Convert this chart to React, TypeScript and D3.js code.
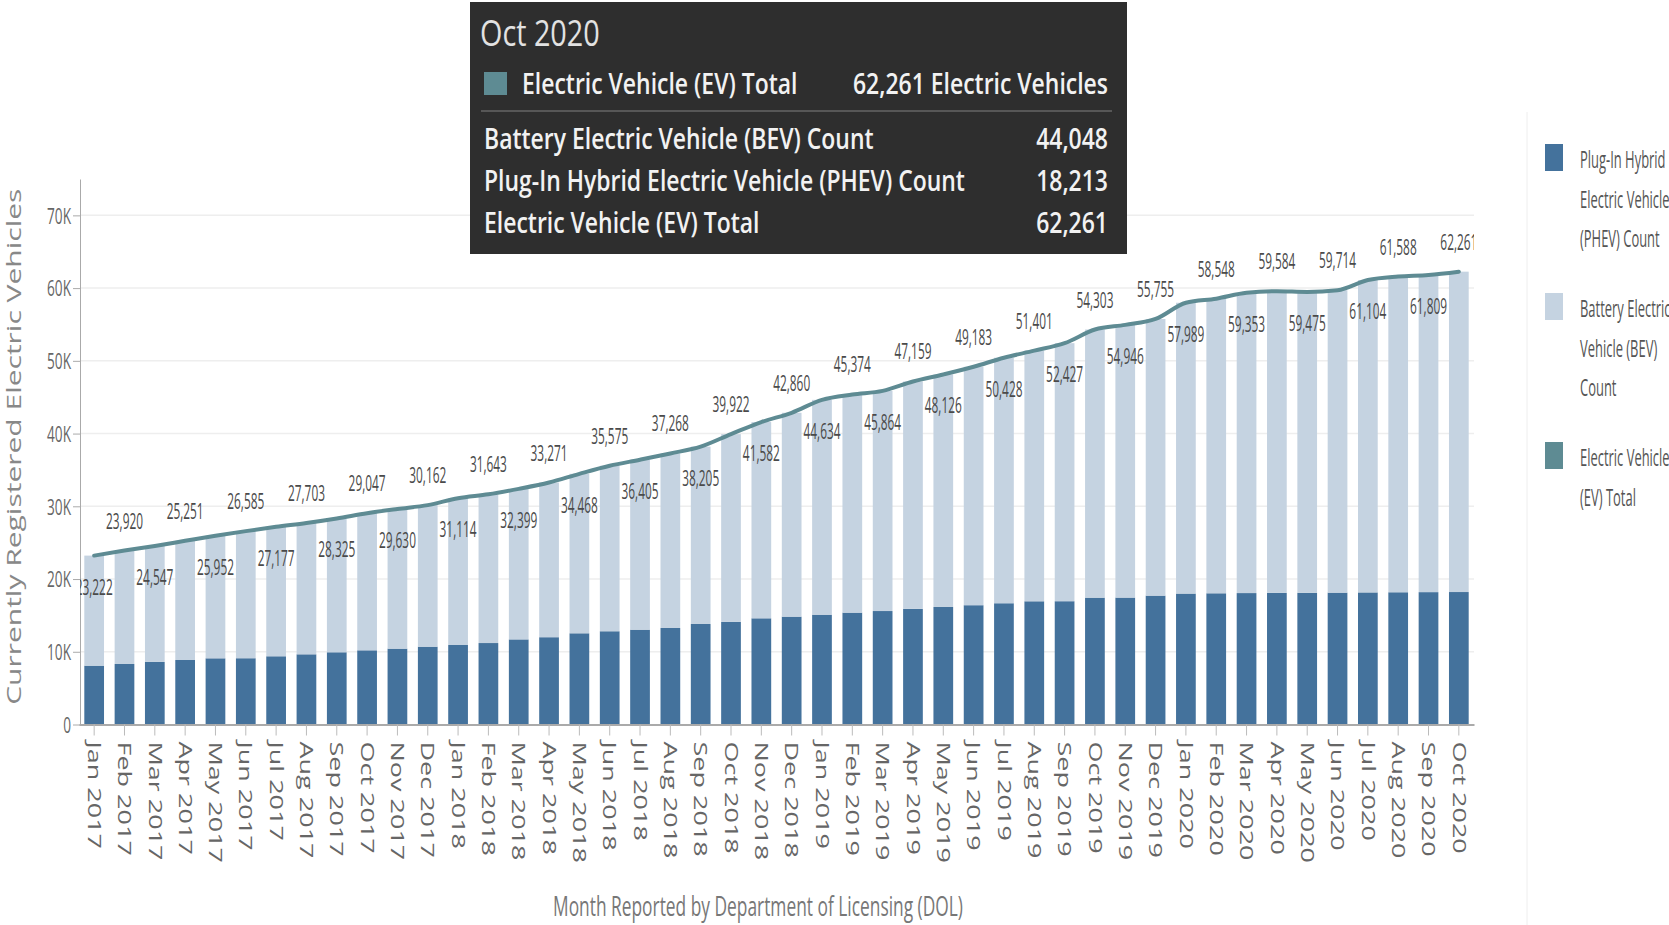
import React, { useEffect, useRef } from 'react';
import * as d3 from 'd3';

const months = [
  'Jan 2017', 'Feb 2017', 'Mar 2017', 'Apr 2017', 'May 2017', 'Jun 2017',
  'Jul 2017', 'Aug 2017', 'Sep 2017', 'Oct 2017', 'Nov 2017', 'Dec 2017',
  'Jan 2018', 'Feb 2018', 'Mar 2018', 'Apr 2018', 'May 2018', 'Jun 2018',
  'Jul 2018', 'Aug 2018', 'Sep 2018', 'Oct 2018', 'Nov 2018', 'Dec 2018',
  'Jan 2019', 'Feb 2019', 'Mar 2019', 'Apr 2019', 'May 2019', 'Jun 2019',
  'Jul 2019', 'Aug 2019', 'Sep 2019', 'Oct 2019', 'Nov 2019', 'Dec 2019',
  'Jan 2020', 'Feb 2020', 'Mar 2020', 'Apr 2020', 'May 2020', 'Jun 2020',
  'Jul 2020', 'Aug 2020', 'Sep 2020', 'Oct 2020',
];

// Electric Vehicle (EV) Total
const evTotal = [
  23222, 23920, 24547, 25251, 25952, 26585, 27177, 27703, 28325, 29047, 29630, 30162,
  31114, 31643, 32399, 33271, 34468, 35575, 36405, 37268, 38205, 39922, 41582, 42860,
  44634, 45374, 45864, 47159, 48126, 49183, 50428, 51401, 52427, 54303, 54946, 55755,
  57989, 58548, 59353, 59584, 59475, 59714, 61104, 61588, 61809, 62261,
];

// Plug-In Hybrid Electric Vehicle (PHEV) Count
const phevCount = [
  8090, 8320, 8600, 8870, 9100, 9110, 9380, 9650, 9930, 10200, 10430, 10700,
  10930, 11200, 11700, 12000, 12540, 12820, 13040, 13270, 13820, 14100, 14600, 14830,
  15100, 15380, 15600, 15900, 16160, 16400, 16670, 16940, 16950, 17440, 17450, 17720,
  18000, 18040, 18070, 18090, 18110, 18130, 18160, 18180, 18200, 18213,
];

const yTicks = [0, 10000, 20000, 30000, 40000, 50000, 60000, 70000];

const legendEntries = [
  { key: 'phev', lines: ['Plug-In Hybrid', 'Electric Vehicle', '(PHEV) Count'] },
  { key: 'bev', lines: ['Battery Electric', 'Vehicle (BEV)', 'Count'] },
  { key: 'ev', lines: ['Electric Vehicle', '(EV) Total'] },
];

const FONT = "'Open Sans', 'Noto Sans', sans-serif";
const colors: Record<string, string> = {
  phev: '#44729c',
  bev: '#c5d3e1',
  ev: '#5e8b93',
};

const App: React.FC = () => {
  const ref = useRef<SVGSVGElement | null>(null);

  useEffect(() => {
    const svg = d3.select(ref.current);
    svg.selectAll('*').remove();

    const width = 1669;
    const height = 925;
    const plot = { left: 80, right: 1474, top: 179, bottom: 724.5 };

    svg.attr('width', width).attr('height', height).attr('font-family', FONT);

    const x = d3
      .scaleBand()
      .domain(months)
      .range([plot.left - 1, plot.right])
      .paddingInner(0.35)
      .paddingOuter(0.175);

    const y = d3
      .scaleLinear()
      .domain([0, 75000])
      .range([plot.bottom, plot.top]);

    const cx = (i: number) => (x(months[i]) as number) + x.bandwidth() / 2;
    const fmt = d3.format(',');

    svg
      .append('defs')
      .append('clipPath')
      .attr('id', 'plot-clip')
      .append('rect')
      .attr('x', plot.left)
      .attr('y', 0)
      .attr('width', plot.right - plot.left)
      .attr('height', plot.bottom);

    // grid
    svg
      .append('g')
      .selectAll('line')
      .data(yTicks.slice(1))
      .join('line')
      .attr('x1', plot.left)
      .attr('x2', plot.right)
      .attr('y1', d => y(d))
      .attr('y2', d => y(d))
      .attr('stroke', '#eeeeee')
      .attr('stroke-width', 1.5);

    // stacked bars
    const rows = months.map((m, i) => ({
      month: m,
      phev: phevCount[i],
      bev: evTotal[i] - phevCount[i],
    }));
    const series = d3.stack<any>().keys(['phev', 'bev'])(rows);

    svg
      .append('g')
      .selectAll('g')
      .data(series)
      .join('g')
      .attr('fill', d => colors[d.key])
      .selectAll('rect')
      .data(d => d)
      .join('rect')
      .attr('x', d => x(d.data.month) as number)
      .attr('y', d => y(d[1]))
      .attr('height', d => y(d[0]) - y(d[1]))
      .attr('width', x.bandwidth());

    // axes
    const yAxis = svg
      .append('g')
      .attr('transform', `translate(${plot.left},0)`)
      .call(
        d3
          .axisLeft(y)
          .tickValues(yTicks)
          .tickSize(7)
          .tickSizeOuter(0)
          .tickFormat(d => (+d === 0 ? '0' : `${+d / 1000}K`))
      );
    yAxis.select('.domain').attr('stroke', '#aaa');
    yAxis.selectAll('.tick line').attr('stroke', '#aaa');
    yAxis
      .selectAll('.tick text')
      .attr('x', null)
      .attr('dy', '0.35em')
      .attr('transform', 'translate(-9,0) scale(0.62,1)')
      .attr('font-size', 22)
      .attr('font-family', FONT)
      .attr('fill', '#666');

    const xAxis = svg
      .append('g')
      .attr('transform', `translate(0,${y(0)})`)
      .call(d3.axisBottom(x).tickSize(11).tickSizeOuter(0));
    xAxis.select('.domain').attr('stroke', '#aaa').attr('stroke-width', 2);
    xAxis.selectAll('.tick line').attr('stroke', '#bbb');
    xAxis
      .selectAll('.tick text')
      .attr('y', null)
      .attr('dy', '0.35em')
      .attr('text-anchor', 'start')
      .attr('transform', 'translate(0,17) scale(1,1.5) rotate(90)')
      .attr('font-size', 18)
      .attr('font-family', FONT)
      .attr('fill', '#666');

    // total line
    const line = d3
      .line<number>()
      .x((d, i) => cx(i))
      .y(d => y(d))
      .curve(d3.curveMonotoneX);

    svg
      .append('path')
      .datum(evTotal)
      .attr('fill', 'none')
      .attr('stroke', colors.ev)
      .attr('stroke-width', 4)
      .attr('stroke-linecap', 'round')
      .attr('d', line);

    // value labels, alternating below / above the line
    svg
      .append('g')
      .attr('clip-path', 'url(#plot-clip)')
      .selectAll('text')
      .data(evTotal)
      .join('text')
      .attr('transform', (d, i) => `translate(${cx(i)},${y(d) + (i % 2 === 0 ? 39 : -22)}) scale(0.54,1)`)
      .attr('text-anchor', 'middle')
      .attr('font-size', 22)
      .attr('fill', '#4a4a4a')
      .text(d => fmt(d));

    // axis titles
    svg
      .append('text')
      .attr('transform', `translate(14,${(plot.top + plot.bottom) / 2 - 5}) scale(1,1.5) rotate(-90)`)
      .attr('dy', '0.35em')
      .attr('text-anchor', 'middle')
      .attr('font-size', 20)
      .attr('fill', '#888')
      .text('Currently Registered Electric Vehicles');

    svg
      .append('text')
      .attr('transform', `translate(758,916) scale(0.62,1)`)
      .attr('text-anchor', 'middle')
      .attr('font-size', 28)
      .attr('fill', '#777')
      .text('Month Reported by Department of Licensing (DOL)');

    // legend
    svg
      .append('line')
      .attr('x1', 1527)
      .attr('x2', 1527)
      .attr('y1', 112)
      .attr('y2', height)
      .attr('stroke', '#eee');

    const legend = svg
      .append('g')
      .selectAll('g')
      .data(legendEntries)
      .join('g')
      .attr('transform', (d, i) => `translate(1545,${144 + i * 149})`);
    legend
      .append('rect')
      .attr('width', 18)
      .attr('height', 27)
      .attr('fill', d => colors[d.key]);
    legend
      .selectAll('text')
      .data(d => d.lines)
      .join('text')
      .attr('transform', (d, i) => `translate(35,${24 + i * 39.5}) scale(0.54,1)`)
      .attr('font-size', 24)
      .attr('fill', '#555')
      .text(d => d);

    // tooltip for the last month
    const last = months.length - 1;
    const tip = svg.append('g');
    tip
      .append('rect')
      .attr('x', 470)
      .attr('y', 2)
      .attr('width', 657)
      .attr('height', 252)
      .attr('fill', '#2e2e2e');
    tip
      .append('text')
      .attr('transform', 'translate(480,46) scale(0.8,1)')
      .attr('font-size', 36)
      .attr('fill', '#e2e2e2')
      .text(months[last]);
    tip
      .append('rect')
      .attr('x', 484)
      .attr('y', 72)
      .attr('width', 23)
      .attr('height', 23)
      .attr('fill', colors.ev);
    tip
      .append('line')
      .attr('x1', 481)
      .attr('x2', 1112)
      .attr('y1', 111)
      .attr('y2', 111)
      .attr('stroke', '#666')
      .attr('stroke-width', 1.5);

    const tipRows = [
      { label: 'Electric Vehicle (EV) Total', value: `${fmt(evTotal[last])} Electric Vehicles`, x: 522, y: 94 },
      { label: 'Battery Electric Vehicle (BEV) Count', value: fmt(evTotal[last] - phevCount[last]), x: 484, y: 149 },
      { label: 'Plug-In Hybrid Electric Vehicle (PHEV) Count', value: fmt(phevCount[last]), x: 484, y: 191 },
      { label: 'Electric Vehicle (EV) Total', value: fmt(evTotal[last]), x: 484, y: 233 },
    ];
    tipRows.forEach(r => {
      tip
        .append('text')
        .attr('transform', `translate(${r.x},${r.y}) scale(0.82,1)`)
        .attr('font-size', 28)
        .attr('font-weight', 600)
        .attr('fill', '#f2f2f2')
        .text(r.label);
      tip
        .append('text')
        .attr('transform', `translate(1108,${r.y}) scale(0.82,1)`)
        .attr('text-anchor', 'end')
        .attr('font-size', 28)
        .attr('font-weight', 600)
        .attr('fill', '#f2f2f2')
        .text(r.value);
    });
  }, []);

  return (
    <svg
      ref={ref}
      style={{ position: 'absolute', left: 0, top: 0, display: 'block', background: '#fff' }}
    ></svg>
  );
};

export default App;
